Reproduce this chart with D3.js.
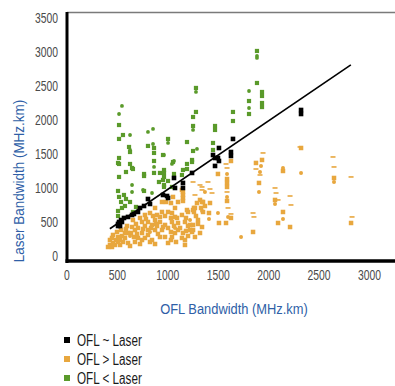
<!DOCTYPE html>
<html>
<head>
<meta charset="utf-8">
<script src="https://cdn.jsdelivr.net/npm/d3@7"></script>
<style>
  html, body { margin: 0; padding: 0; background: #fff; }
  svg { display: block; font-family: "Liberation Sans", Arial, sans-serif; }
</style>
</head>
<body>
<div id="chart"></div>
<script>
// tick labels
const xTicks = [0, 500, 1000, 1500, 2000, 2500, 3000];
const yTicks = [0, 500, 1000, 1500, 2000, 2500, 3000, 3500];

// OFL ~ Laser (black)
const equalSquares = [
  [2326, 2147], [2326, 2088], [1651, 1721], [1512, 1588], [1631, 1529], [1631, 1471],
  [1453, 1485], [1473, 1441], [1502, 1441], [1512, 1397], [1473, 1324], [1245, 1221],
  [1066, 1147], [1155, 1074], [1155, 1000], [1076, 1000], [957, 897], [997, 882],
  [1007, 853], [808, 838], [828, 765], [769, 735], [729, 706], [709, 647], [650, 603],
  [610, 574], [570, 559], [550, 500], [521, 471], [511, 441], [531, 441], [541, 529],
  [669, 618], [521, 500], [511, 471]
];

// OFL > Laser (orange)
const aboveSquares = [
  [2326, 1588], [2653, 1147], [2822, 485], [2217, 426], [1631, 1397], [1502, 1206],
  [1592, 1132], [1592, 1074], [1592, 1015], [1592, 809], [1631, 559], [1582, 485],
  [1512, 485], [1413, 632], [1344, 794], [1373, 735], [1423, 779], [1939, 1412],
  [1879, 1368], [1909, 1074], [2147, 1250], [2068, 824], [2147, 647], [2098, 485],
  [1850, 353], [1324, 824], [1274, 706], [1304, 471], [1255, 382],
  [1354, 794], [1155, 941], [1155, 853], [1155, 809], [1056, 868], [1036, 779],
  [987, 794], [947, 794], [878, 706], [947, 647], [1007, 647], [1046, 632], [1076, 574],
  [1145, 603], [1205, 647], [1264, 706], [1264, 647], [1334, 706], [1354, 647],
  [778, 603], [749, 500], [808, 500], [878, 529], [848, 456], [927, 500], [977, 456],
  [1046, 500], [1007, 412], [947, 382], [878, 382], [808, 382], [749, 338], [679, 382],
  [650, 426], [610, 338], [669, 279], [709, 265], [580, 265], [511, 279], [461, 309],
  [431, 235], [431, 162], [481, 162], [531, 162], [560, 206], [610, 191], [778, 265],
  [808, 309], [927, 279], [977, 279], [1076, 338], [1126, 412], [1155, 338], [1175, 235],
  [1145, 265], [1225, 382], [1255, 456], [1304, 529], [1344, 426], [1274, 279],
  [1106, 485], [1175, 500], [659, 529], [828, 632], [898, 603], [729, 559], [689, 471],
  [600, 441], [541, 382], [491, 235], [412, 132], [451, 132], [630, 147], [729, 176],
  [828, 206], [1036, 235], [1205, 294], [1245, 353], [1324, 338], [1175, 162],
  [1086, 206], [1007, 191], [907, 324], [848, 235], [1145, 971], [1155, 897],
  [1255, 676], [1195, 676], [1294, 779], [511, 206], [580, 338], [709, 412], [778, 441],
  [898, 441], [1106, 382], [1205, 441], [1036, 353], [858, 588], [977, 588], [1076, 706],
  [1106, 794], [451, 265], [501, 353], [550, 294], [590, 397], [640, 338], [699, 324],
  [759, 397], [788, 544], [838, 412], [888, 471], [927, 574], [957, 426], [1036, 559],
  [1066, 441], [1096, 559], [1185, 559], [1225, 456], [1284, 588], [1185, 368],
  [1046, 279], [878, 176], [679, 206], [531, 235], [461, 191], [749, 235]
];
const aboveDots = [
  [1592, 1206], [1592, 868], [1502, 632], [1413, 544], [1344, 662], [1373, 941],
  [1929, 1324], [1919, 1235], [1909, 941], [2147, 1294], [2068, 765], [2147, 544],
  [2326, 1221], [2653, 1088], [1731, 279], [1602, 574], [828, 353], [630, 294],
  [1076, 412], [1225, 529]
];
const aboveDashes = [
  [1582, 1353], [1592, 1294], [1602, 706], [1631, 618], [1403, 1088], [1344, 1015],
  [1423, 985], [1443, 926], [1255, 1088], [1949, 1515], [1879, 1279], [1919, 1191],
  [2068, 1000], [2078, 926], [2098, 824], [2217, 882], [2226, 750], [1850, 632],
  [1859, 574], [2316, 1603], [2643, 1456], [2653, 1309], [2822, 1162], [2832, 574],
  [1324, 1044], [1344, 971], [1592, 941], [1274, 897]
];

// OFL < Laser (green)
const belowSquares = [
  [1889, 3015], [1889, 2544], [1939, 2412], [1939, 2353], [1810, 2279], [1810, 2088],
  [1939, 2250], [1939, 2190], [1651, 2118], [1651, 1985], [1473, 1912], [1473, 1853],
  [1453, 1662], [1453, 1559], [1284, 2471], [1284, 2118], [1255, 2044], [1255, 1912],
  [1195, 1676], [1007, 1721], [868, 1588], [868, 1515], [808, 1618], [521, 1926],
  [521, 1721], [560, 1779], [630, 1529], [1255, 1544], [1245, 1412], [1195, 1353],
  [1195, 1279], [1155, 1265], [521, 1441], [521, 1353], [630, 1353], [659, 1279],
  [590, 1235], [521, 1162], [769, 1206], [868, 1397], [868, 1221], [927, 1221],
  [967, 1221], [1066, 1206], [967, 1162], [769, 1176], [917, 1088], [957, 1118],
  [1007, 1103], [967, 1044], [511, 956], [769, 956], [570, 897], [590, 838], [521, 868],
  [541, 794], [630, 794], [580, 735], [550, 706], [511, 662], [511, 588], [689, 721],
  [659, 647], [967, 1015], [650, 1294], [511, 1368], [620, 1603], [1056, 1382],
  [1046, 1015], [1145, 1191], [1245, 1382], [957, 1485], [967, 1265]
];
const belowDots = [
  [521, 2088], [550, 2206], [630, 1779], [808, 1824], [858, 1868], [858, 1647],
  [1007, 1662], [1284, 2412], [1255, 1853], [630, 1559], [1889, 2941], [1889, 2912],
  [1810, 2426], [1810, 2176], [967, 1485], [1066, 1397], [1046, 1353], [868, 1309],
  [650, 941], [848, 926], [650, 1044], [1294, 1574], [759, 971]
];

// fitted line
const trendX = [430, 2820];
const trendY = [400, 2810];

const legendItems = ["OFL ~ Laser", "OFL > Laser", "OFL < Laser"];

const colEqual = "#000000";
const colAbove = "#e8a73e";
const colBelow = "#5a9a2a";
const colTitle = "#2f5fa7";

const W = 395, H = 386;
const plot = { left: 67, top: 12, right: 395, bottom: 261 };

const svg = d3.select("#chart").append("svg")
  .attr("width", W).attr("height", H);

const x = d3.scaleLinear().domain([0, 3000]).range([66.5, 369]);
const y = d3.scaleLinear().domain([-74, 3588]).range([plot.bottom, plot.top]);

// squeeze text horizontally to mimic the condensed face of the original
function squeeze(sel, k) {
  sel.each(function () {
    const len = this.getComputedTextLength();
    d3.select(this).attr("textLength", len * k).attr("lengthAdjust", "spacingAndGlyphs");
  });
}

// top frame line
svg.append("line")
  .attr("x1", plot.left).attr("x2", plot.right)
  .attr("y1", plot.top + 0.5).attr("y2", plot.top + 0.5)
  .attr("stroke", "#7a7a7a").attr("stroke-width", 1.5);

// markers
const g = svg.append("g");

function squares(data, color, size) {
  g.selectAll(null).data(data).enter().append("rect")
    .attr("x", d => x(d[0]) - size / 2)
    .attr("y", d => y(d[1]) - size / 2)
    .attr("width", size).attr("height", size)
    .attr("fill", color);
}
function dots(data, color, r) {
  g.selectAll(null).data(data).enter().append("circle")
    .attr("cx", d => x(d[0])).attr("cy", d => y(d[1]))
    .attr("r", r).attr("fill", color);
}
function dashes(data, color) {
  g.selectAll(null).data(data).enter().append("rect")
    .attr("x", d => x(d[0]) - 2.5)
    .attr("y", d => y(d[1]) - 0.8)
    .attr("width", 5).attr("height", 1.6)
    .attr("fill", color);
}

squares(aboveSquares, colAbove, 4.5);
dots(aboveDots, colAbove, 2);
dashes(aboveDashes, colAbove);
squares(belowSquares, colBelow, 4.2);
dots(belowDots, colBelow, 1.9);
squares(equalSquares, colEqual, 4.6);

// trend line
svg.append("line")
  .attr("x1", x(trendX[0])).attr("y1", y(trendY[0]))
  .attr("x2", x(trendX[1])).attr("y2", y(trendY[1]))
  .attr("stroke", "#000").attr("stroke-width", 1.6);

// axes
const yAxis = svg.append("g")
  .attr("transform", `translate(${plot.left},0)`)
  .call(d3.axisLeft(y).tickValues(yTicks).tickFormat(d3.format("d")).tickSize(0).tickPadding(9));
yAxis.select(".domain").remove();

const xAxis = svg.append("g")
  .attr("transform", `translate(0,${plot.bottom})`)
  .call(d3.axisBottom(x).tickValues(xTicks).tickFormat(d3.format("d")).tickSize(0).tickPadding(9));
xAxis.select(".domain").remove();

const tickText = svg.selectAll(".tick text")
  .attr("font-family", "'Liberation Sans', Arial, sans-serif")
  .attr("font-size", 14).attr("fill", "#4a4a4a");
squeeze(tickText, 0.74);

// thick axis lines
svg.append("line")
  .attr("x1", plot.left).attr("x2", plot.left)
  .attr("y1", plot.top).attr("y2", plot.bottom + 2)
  .attr("stroke", "#000").attr("stroke-width", 3);
svg.append("line")
  .attr("x1", plot.left - 1.5).attr("x2", plot.right)
  .attr("y1", plot.bottom).attr("y2", plot.bottom)
  .attr("stroke", "#000").attr("stroke-width", 3.5);

// axis titles
const yTitle = svg.append("text")
  .attr("transform", "translate(24,181) rotate(-90)")
  .attr("text-anchor", "middle")
  .attr("font-size", 15.5).attr("fill", colTitle)
  .text("Laser Bandwidth (MHz.km)");
squeeze(yTitle, 0.87);

const xTitle = svg.append("text")
  .attr("x", 234).attr("y", 314)
  .attr("text-anchor", "middle")
  .attr("font-size", 15.5).attr("fill", colTitle)
  .text("OFL Bandwidth (MHz.km)");
squeeze(xTitle, 0.83);

// legend
const legend = svg.append("g");
const legendColors = [colEqual, colAbove, colBelow];
legendItems.forEach((label, i) => {
  const cy = 340 + i * 19;
  legend.append("rect")
    .attr("x", 64).attr("y", cy - 3).attr("width", 6).attr("height", 6)
    .attr("fill", legendColors[i]);
  const t = legend.append("text")
    .attr("x", 77).attr("y", cy + 6)
    .attr("font-size", 16).attr("fill", "#1a1a1a")
    .text(label);
  squeeze(t, 0.73);
});
</script>
</body>
</html>
